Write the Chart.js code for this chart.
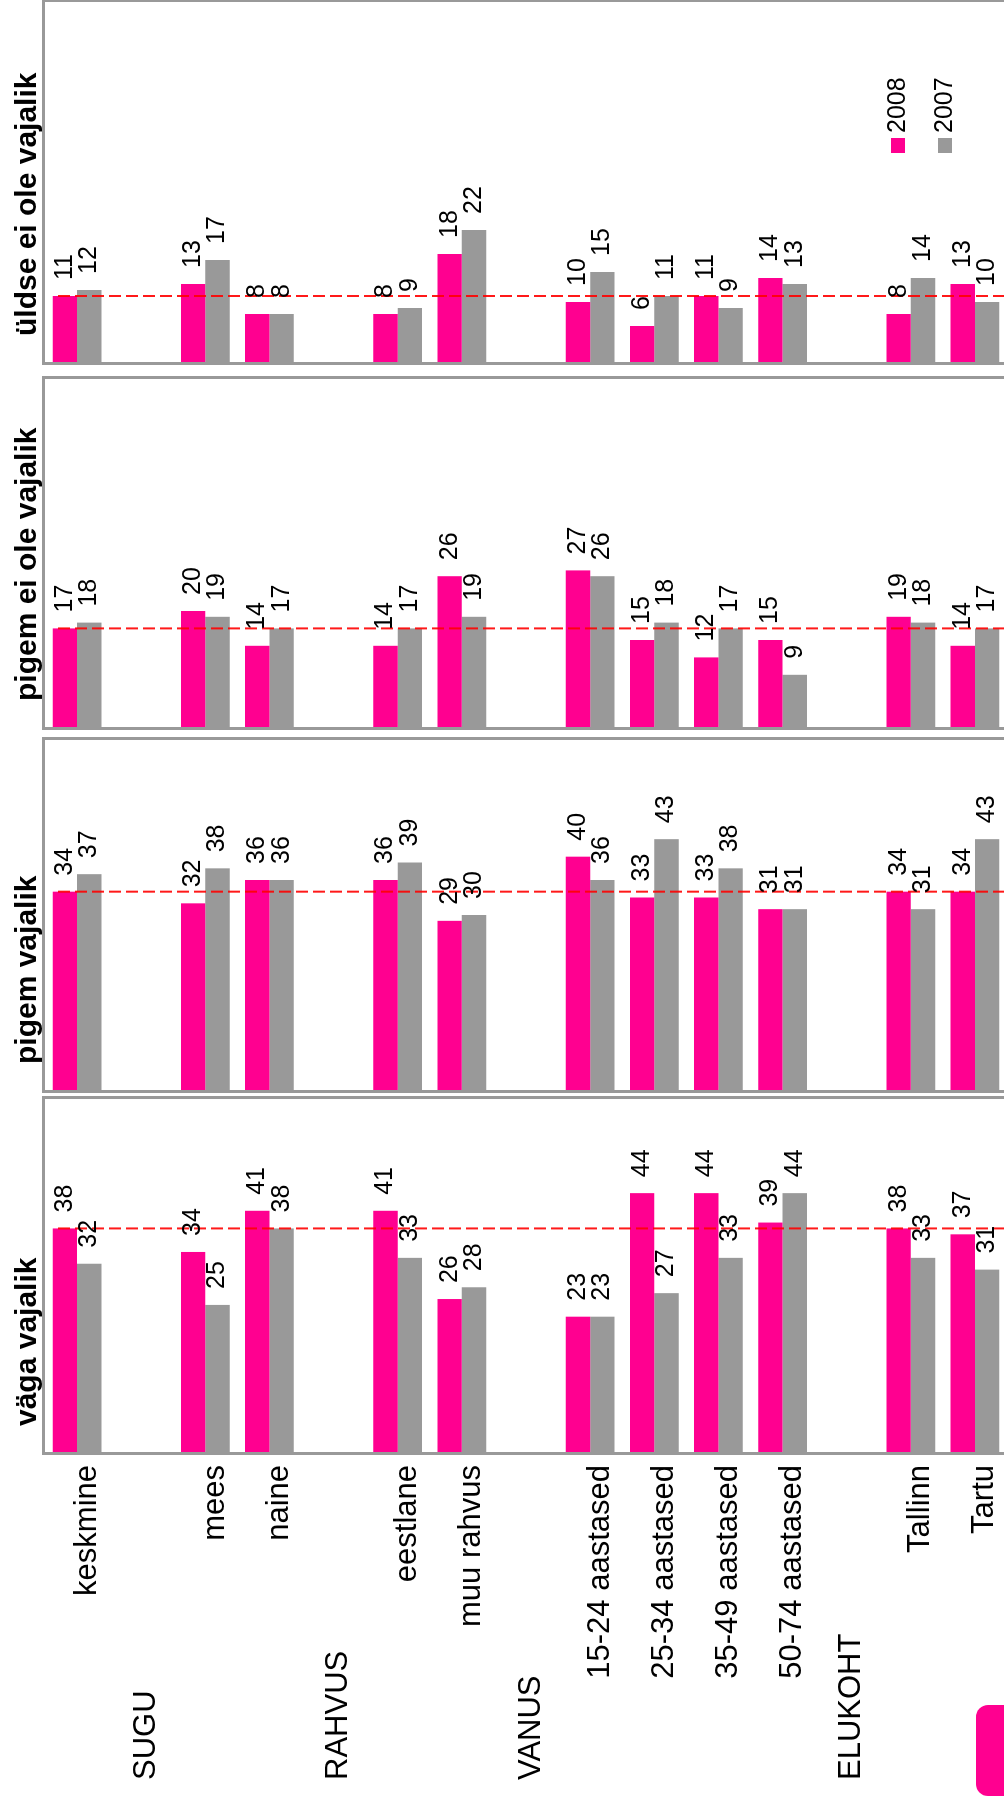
<!DOCTYPE html>
<html>
<head>
<meta charset="utf-8">
<script src="https://cdn.jsdelivr.net/npm/chart.js@4.4.0/dist/chart.umd.min.js"></script>
<style>
  html, body { margin: 0; padding: 0; background: #fff; overflow: hidden; }
  body { width: 1004px; height: 1796px; position: relative; }
  /* graafik joonistatakse "pikali" ja keeratakse 90 kraadi vastupäeva */
  #wrap { position: absolute; left: 0; top: 0; width: 1796px; height: 1040px;
          transform-origin: 0 0; transform: translate(0, 1796px) rotate(-90deg); }
  #wrap canvas { position: absolute; top: 0; }
  #logo { position: absolute; left: 976px; top: 1705px; width: 28px; height: 91px;
          background: #ff0090; border-radius: 12px 0 0 12px; }
</style>
</head>
<body>
<div id="wrap">
  <canvas id="c1" width="700" height="1040" style="left:0px"></canvas>
  <canvas id="c2" width="362" height="1040" style="left:700px"></canvas>
  <canvas id="c3" width="360" height="1040" style="left:1062px"></canvas>
  <canvas id="c4" width="371" height="1040" style="left:1425px"></canvas>
</div>
<div id="logo"></div>
<script>
// kategooriad, tühjad kohad on gruppide nimede jaoks
const kategooriad = ["keskmine", "", "mees", "naine", "", "eestlane", "muu rahvus", "",
  "15-24 aastased", "25-34 aastased", "35-49 aastased", "50-74 aastased", "", "Tallinn", "Tartu"];
const grupid = ["", "SUGU", "", "", "RAHVUS", "", "", "VANUS", "", "", "", "", "ELUKOHT", "", ""];
const pealkirjad = ["väga vajalik", "pigem vajalik", "pigem ei ole vajalik", "üldse ei ole vajalik"];
const aastad = ["2008", "2007"];

// väärtused (%)
const vaga2008 = [38, null, 34, 41, null, 41, 26, null, 23, 44, 44, 39, null, 38, 37];
const vaga2007 = [32, null, 25, 38, null, 33, 28, null, 23, 27, 33, 44, null, 33, 31];
const pigemVaj2008 = [34, null, 32, 36, null, 36, 29, null, 40, 33, 33, 31, null, 34, 34];
const pigemVaj2007 = [37, null, 38, 36, null, 39, 30, null, 36, 43, 38, 31, null, 31, 43];
const pigemEi2008 = [17, null, 20, 14, null, 14, 26, null, 27, 15, 12, 15, null, 19, 14];
const pigemEi2007 = [18, null, 19, 17, null, 17, 19, null, 26, 18, 17, 9, null, 18, 17];
const uldseEi2008 = [11, null, 13, 8, null, 8, 18, null, 10, 6, 11, 14, null, 8, 13];
const uldseEi2007 = [12, null, 17, 8, null, 9, 22, null, 15, 11, 9, 13, null, 14, 10];

const ROOSA = "#ff0090";
const HALL = "#999999";
const FONT = "'Liberation Sans', Arial, Helvetica, sans-serif";

Chart.defaults.font.family = FONT;
Chart.defaults.color = "#000";

// raam ümber joonise ala
const raamPlugin = {
  id: "raam",
  afterDatasetsDraw(chart) {
    const { ctx, chartArea: a } = chart;
    ctx.save();
    ctx.strokeStyle = HALL;
    ctx.lineWidth = 3;
    ctx.strokeRect(a.left - 1.5, a.top - 1.5, a.right - a.left + 3, a.bottom - a.top + 3);
    ctx.restore();
  }
};

// punane katkendjoon keskmise kohal
const keskmineJoon = {
  id: "keskmineJoon",
  afterDatasetsDraw(chart, args, opts) {
    const { ctx, chartArea: a } = chart;
    const x = chart.scales.x.getPixelForValue(opts.value);
    ctx.save();
    ctx.strokeStyle = "rgba(255,0,0,0.9)";
    ctx.lineWidth = 2;
    ctx.setLineDash([12, 5]);
    ctx.beginPath();
    ctx.moveTo(x, a.top + 13);
    ctx.lineTo(x, a.bottom);
    ctx.stroke();
    ctx.restore();
  }
};

// väärtused tulpade otsas
const vaartused = {
  id: "vaartused",
  afterDatasetsDraw(chart) {
    const ctx = chart.ctx;
    ctx.save();
    ctx.font = "25px " + FONT;
    ctx.fillStyle = "#000";
    ctx.textAlign = "left";
    ctx.textBaseline = "middle";
    chart.data.datasets.forEach((ds, i) => {
      chart.getDatasetMeta(i).data.forEach((bar, j) => {
        if (ds.data[j] == null) return;
        ctx.fillText(ds.data[j], bar.x + 16, bar.y);
      });
    });
    ctx.restore();
  }
};

// paneeli pealkiri
const pealkiri = {
  id: "pealkiri",
  afterDraw(chart, args, opts) {
    const { ctx, chartArea: a } = chart;
    ctx.save();
    ctx.font = "bold 30px " + FONT;
    ctx.fillStyle = "#000";
    ctx.textAlign = "left";
    ctx.textBaseline = "alphabetic";
    ctx.fillText(opts.text, a.left + 26, a.top - 9);
    ctx.restore();
  }
};

// gruppide nimed (SUGU, RAHVUS...) vasakule joondatult
const grupiNimed = {
  id: "grupiNimed",
  afterDraw(chart, args, opts) {
    if (!opts.show) return;
    const ctx = chart.ctx;
    const y = chart.scales.y;
    ctx.save();
    ctx.font = "31px " + FONT;
    ctx.fillStyle = "#000";
    ctx.textAlign = "left";
    ctx.textBaseline = "middle";
    grupid.forEach((g, i) => {
      if (g) ctx.fillText(g, 16, y.getPixelForTick(i) + 5);
    });
    ctx.restore();
  }
};

// legend viimase paneeli sees
const legendK = {
  id: "legendK",
  afterDraw(chart, args, opts) {
    if (!opts.show) return;
    const { ctx, chartArea: a } = chart;
    ctx.save();
    ctx.font = "25px " + FONT;
    ctx.textAlign = "left";
    ctx.textBaseline = "middle";
    chart.data.datasets.forEach((ds, i) => {
      const y = a.top + 853 + i * 47;
      ctx.fillStyle = ds.backgroundColor;
      ctx.fillRect(a.left + 209, y - 7, 15, 14);
      ctx.fillStyle = "#000";
      ctx.fillText(ds.label, a.left + 229, y);
    });
    ctx.restore();
  }
};

const teeGraafik = (id, d2008, d2007, tekst, teljed, padding, legend) => {
  const scales = {
    x: { min: 0, max: 60, display: false },
    y: { display: false, grid: { display: false } }
  };
  if (teljed) {
    scales.y = {
      type: "category", position: "left",
      grid: { display: false, drawTicks: false }, border: { display: false },
      ticks: { padding: 13, labelOffset: 10, autoSkip: false, color: "#000", font: { size: 31 } },
      afterFit: (s) => { s.width = 328; }
    };
  }
  return new Chart(document.getElementById(id), {
    type: "bar",
    data: {
      labels: kategooriad,
      datasets: [
        { label: aastad[0], data: d2008, backgroundColor: ROOSA },
        { label: aastad[1], data: d2007, backgroundColor: HALL }
      ]
    },
    options: {
      indexAxis: "y",
      responsive: false,
      animation: false,
      layout: { padding: padding },
      datasets: { bar: { categoryPercentage: 0.76, barPercentage: 1.0, borderWidth: 0 } },
      scales: scales,
      plugins: {
        legend: { display: false },
        tooltip: { enabled: false },
        keskmineJoon: { value: d2008[0] },
        pealkiri: { text: tekst },
        grupiNimed: { show: teljed },
        legendK: { show: legend }
      }
    },
    plugins: [raamPlugin, keskmineJoon, vaartused, pealkiri, grupiNimed, legendK]
  });
};

teeGraafik("c1", vaga2008, vaga2007, pealkirjad[0], true, { left: 16, right: 3, top: 45, bottom: 33 }, false);
teeGraafik("c2", pigemVaj2008, pigemVaj2007, pealkirjad[1], false, { left: 6, right: 6, top: 45, bottom: 33 }, false);
teeGraafik("c3", pigemEi2008, pigemEi2007, pealkirjad[2], false, { left: 7, right: 5, top: 45, bottom: 33 }, false);
teeGraafik("c4", uldseEi2008, uldseEi2007, pealkirjad[3], false, { left: 9, right: 2, top: 45, bottom: 33 }, true);
</script>
</body>
</html>
